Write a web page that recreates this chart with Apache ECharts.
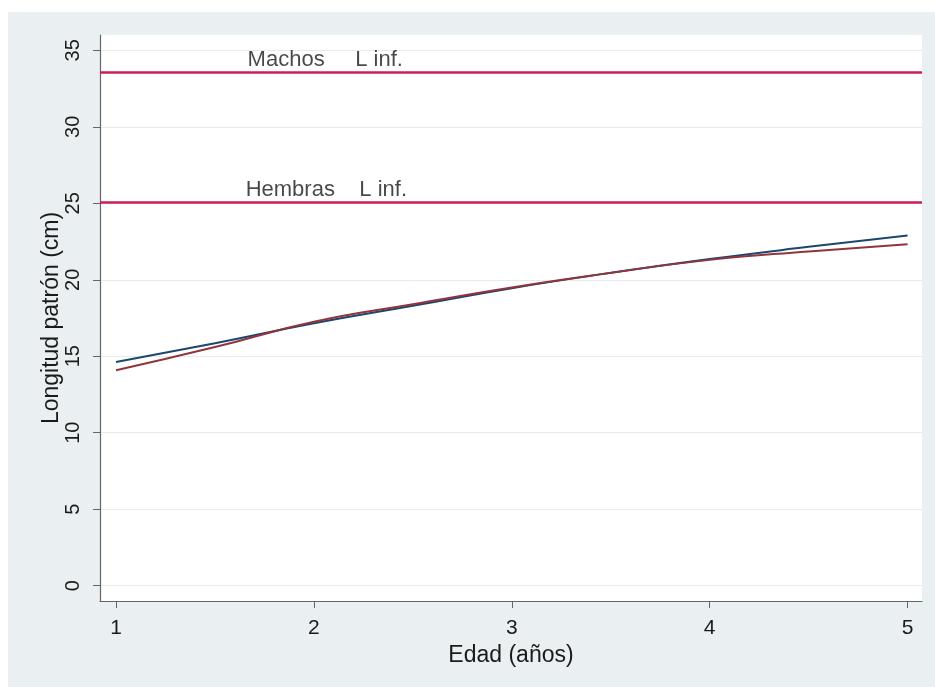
<!DOCTYPE html>
<html>
<head>
<meta charset="utf-8">
<script src="https://cdn.jsdelivr.net/npm/echarts@6/dist/echarts.min.js"></script>
<style>
  html, body { margin: 0; padding: 0; background: #ffffff; }
  #chart { position: absolute; left: 8px; top: 12px; width: 927px; height: 675px; }
</style>
</head>
<body>
<div id="chart"></div>
<script>
// edad (años)
var edad = [1, 1.5, 2, 2.5, 3, 3.5, 4, 4.5, 5];
// curvas de crecimiento (cm)
var curvaAzul = [14.63, 15.85, 17.15, 18.3, 19.45, 20.45, 21.35, 22.15, 22.9];
var curvaGranate = [14.08, 15.6, 17.25, 18.4, 19.5, 20.45, 21.3, 21.85, 22.32];
// L infinito
var lInfMachos = 33.56;
var lInfHembras = 25.07;
var etiquetas = [
    [1.665, 33.56, 'Machos     L inf.'],
    [1.655, 25.07, 'Hembras    L inf.']
];
var ticksX = [1, 2, 3, 4, 5];
var ticksY = [0, 5, 10, 15, 20, 25, 30, 35];

var font = 'Liberation Sans, Arial, sans-serif';
var textColor = '#1a1a1a';
var chart = echarts.init(document.getElementById('chart'));

function pares(xs, ys) {
    return xs.map(function(x, i) { return [x, ys[i]]; });
}

var option = {
    backgroundColor: '#eaeff2',
    animation: false,
    grid: {
        left: 92,
        top: 23,
        right: 13,
        bottom: 86,
        show: true,
        backgroundColor: '#ffffff',
        borderWidth: 0
    },
    xAxis: {
        type: 'value',
        min: 0.919,
        max: 5.073,
        name: 'Edad (años)',
        nameLocation: 'middle',
        nameGap: 43,
        nameMoveOverlap: false,
        nameTextStyle: { fontFamily: font, fontSize: 23, color: textColor },
        axisLine: { onZero: false, lineStyle: { color: '#666', width: 1.2 } },
        axisTick: { show: true, length: 7, customValues: ticksX, lineStyle: { color: '#666' } },
        axisLabel: { customValues: ticksX, margin: 17, fontFamily: font, fontSize: 21, color: textColor },
        splitLine: { show: false }
    },
    yAxis: {
        type: 'value',
        min: -1,
        max: 36,
        name: 'Longitud patrón (cm)',
        nameLocation: 'middle',
        nameGap: 37,
        nameMoveOverlap: false,
        nameTextStyle: { fontFamily: font, fontSize: 23, color: textColor },
        axisLine: { show: true, onZero: false, lineStyle: { color: '#666', width: 1.2 } },
        axisTick: { show: true, length: 7, customValues: ticksY, lineStyle: { color: '#666' } },
        axisLabel: { customValues: ticksY, rotate: 90, margin: 17, fontFamily: font, fontSize: 20, color: textColor },
        splitLine: { show: true, lineStyle: { color: '#e8ebee', width: 1 } }
    },
    series: [
        {
            name: 'curva1',
            type: 'line',
            data: pares(edad, curvaAzul),
            smooth: true,
            showSymbol: false,
            lineStyle: { color: '#1a476f', width: 2 },
            z: 3
        },
        {
            name: 'curva2',
            type: 'line',
            data: pares(edad, curvaGranate),
            smooth: true,
            showSymbol: false,
            lineStyle: { color: '#90353b', width: 2 },
            z: 4,
            markLine: {
                silent: true,
                symbol: 'none',
                label: { show: false },
                lineStyle: { color: '#cc1e58', width: 2.5, type: 'solid' },
                data: [{ yAxis: lInfMachos }, { yAxis: lInfHembras }]
            }
        },
        {
            name: 'etiquetas',
            type: 'scatter',
            data: etiquetas,
            symbolSize: 0,
            silent: true,
            label: {
                show: true,
                position: [0, -1],
                align: 'left',
                verticalAlign: 'bottom',
                formatter: function(p) { return p.value[2]; },
                fontFamily: font,
                fontSize: 22,
                color: textColor
            }
        }
    ]
};
chart.setOption(option);
</script>
</body>
</html>
